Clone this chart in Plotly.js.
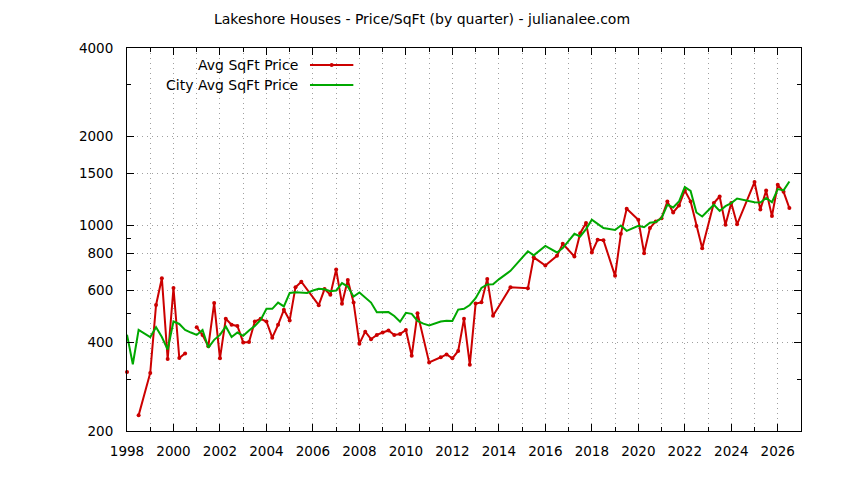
<!DOCTYPE html>
<html>
<head>
<meta charset="utf-8">
<script src="https://cdn.plot.ly/plotly-3.0.1.min.js"></script>
<style>html,body{margin:0;padding:0;background:#fff;}#chart{width:844px;height:480px;}</style>
</head>
<body>
<div id="chart"></div>
<script>
// ---- data ----
const avgQuarters = [1998.0, 1998.25, 1998.5, 1999.0, 1999.25, 1999.5, 1999.75, 2000.0, 2000.25, 2000.5, 2000.75,
  2001.0, 2001.25, 2001.5, 2001.75, 2002.0, 2002.25, 2002.5, 2002.75, 2003.0, 2003.25, 2003.5, 2003.75,
  2004.0, 2004.25, 2004.5, 2004.75, 2005.0, 2005.25, 2005.5, 2006.25, 2006.5, 2006.75,
  2007.0, 2007.25, 2007.5, 2007.75, 2008.0, 2008.25, 2008.5, 2008.75, 2009.0, 2009.25, 2009.5, 2009.75,
  2010.0, 2010.25, 2010.5, 2011.0, 2011.5, 2011.75, 2012.0, 2012.25, 2012.5, 2012.75,
  2013.0, 2013.25, 2013.5, 2013.75, 2014.5, 2015.25, 2015.5, 2016.0, 2016.5, 2016.75,
  2017.25, 2017.5, 2017.75, 2018.0, 2018.25, 2018.5, 2019.0, 2019.25, 2019.5,
  2020.0, 2020.25, 2020.5, 2020.75, 2021.0, 2021.25, 2021.5, 2021.75,
  2022.0, 2022.25, 2022.5, 2022.75, 2023.25, 2023.5, 2023.75, 2024.0, 2024.25,
  2025.0, 2025.25, 2025.5, 2025.75, 2026.0, 2026.25, 2026.5];
const avgPrice = [317, null, 226, 315, 536, 661, 351, 612, 354, 367, null,
  450, 424, 388, 544, 353, 481, 459, 455, 400, 401, 471, 481,
  471, 415, 459, 516, 475, 616, 643, 535, 607, 581,
  707, 541, 652, 546, 396, 435, 410, 424, 432, 439, 424, 427,
  441, 360, 502, 342, 356, 364, 353, 374, 481, 336,
  542, 547, 657, 493, 616, 611, 778, 730, 787, 865,
  783, 940, 1017, 808, 892, 890, 673, 935, 1137,
  1044, 804, 978, 1030, 1057, 1204, 1105, 1167,
  1313, 1205, 995, 836, 1189, 1252, 1003, 1189, 1007,
  1402, 1131, 1311, 1074, 1372, 1299, 1144];

const cityQuarters = [1998.0, 1998.25, 1998.5, 1999.0, 1999.25, 1999.5, 1999.75, 2000.0, 2000.25, 2000.5, 2000.75,
  2001.0, 2001.25, 2001.5, 2001.75, 2002.0, 2002.25, 2002.5, 2002.75, 2003.0, 2003.25, 2003.5, 2003.75,
  2004.0, 2004.25, 2004.5, 2004.75, 2005.0, 2005.25, 2005.5, 2005.75, 2006.0, 2006.25, 2006.5, 2006.75,
  2007.0, 2007.25, 2007.5, 2007.75, 2008.0, 2008.25, 2008.5, 2008.75, 2009.0, 2009.25, 2009.5, 2009.75,
  2010.0, 2010.25, 2010.5, 2010.75, 2011.0, 2011.25, 2011.5, 2011.75, 2012.0, 2012.25, 2012.5, 2012.75,
  2013.0, 2013.25, 2013.5, 2013.75, 2014.0, 2014.5, 2014.75, 2015.25, 2015.5, 2016.0, 2016.5, 2016.75,
  2017.25, 2017.5, 2017.75, 2018.0, 2018.25, 2018.5, 2019.0, 2019.25, 2019.5,
  2020.0, 2020.25, 2020.5, 2020.75, 2021.0, 2021.25, 2021.5, 2021.75,
  2022.0, 2022.25, 2022.5, 2022.75, 2023.25, 2023.5, 2023.75, 2024.0, 2024.25,
  2025.0, 2025.25, 2025.5, 2025.75, 2026.0, 2026.25, 2026.5];
const cityPrice = [425, 337, 441, 417, 450, 417, 378, 471, 462, 441, 432,
  424, 441, 384, 408, 424, 453, 417, 432, 421, 439, 455, 477,
  520, 520, 546, 530, 589, 592, 589, 589, 600, 608, 606, 597,
  600, 636, 619, 572, 591, 570, 546, 506, 506, 507, 492, 470,
  504, 500, 473, 463, 457, 465, 471, 474, 473, 517, 520, 536,
  565, 612, 629, 630, 655, 700, 738, 816, 790, 851, 808, 836,
  935, 916, 970, 1044, 1011, 978, 963, 998, 957,
  996, 985, 1020, 1025, 1057, 1174, 1149, 1204,
  1348, 1308, 1105, 1071, 1174, 1118, 1161, 1189, 1232,
  1197, 1195, 1237, 1197, 1327, 1313, 1408];

const seriesNames = ["Avg SqFt Price", "City Avg SqFt Price"];
const chartTitle = "Lakeshore Houses - Price/SqFt (by quarter) - julianalee.com";
const xMajorTicks = [1998, 2000, 2002, 2004, 2006, 2008, 2010, 2012, 2014, 2016, 2018, 2020, 2022, 2024, 2026];
const xMinorTicks = [1999, 2001, 2003, 2005, 2007, 2009, 2011, 2013, 2015, 2017, 2019, 2021, 2023, 2025];
const yMajorTicks = [200, 400, 600, 800, 1000, 1500, 2000, 4000];
const yMinorTicks = [300, 500, 700, 900, 3000];
const xRange = [1998, 2027];
const yRange = [200, 4000];

// ---- styles ----
const RED = '#cc0000';
const GREEN = '#00a800';
const FONT = 'DejaVu Sans, Verdana, sans-serif';
const GRID = '#a0a0a0';
const DASH = '1px,4px';

const traces = [
  {
    x: avgQuarters, y: avgPrice, name: seriesNames[0], type: 'scatter', mode: 'lines+markers',
    line: {color: RED, width: 2}, marker: {color: RED, size: 4, symbol: 'circle'},
    connectgaps: false, cliponaxis: false, showlegend: false
  },
  {
    x: cityQuarters, y: cityPrice, name: seriesNames[1], type: 'scatter', mode: 'lines',
    line: {color: GREEN, width: 2}, connectgaps: false, showlegend: false
  }
];

// legend geometry (paper coordinates of the plot area)
const legTextX = 0.257, legLineX0 = 0.2715, legLineX1 = 0.3358;
const legY = [0.9556, 0.9034];

const layout = {
  width: 844, height: 480,
  margin: {l: 127, r: 43, t: 48, b: 49, pad: 0},
  paper_bgcolor: '#ffffff', plot_bgcolor: '#ffffff',
  font: {family: FONT, size: 14, color: '#000'},
  title: {text: chartTitle, font: {family: FONT, size: 14, color: '#000'},
          x: 0.5, xref: 'container', xanchor: 'center', y: 0.96, yref: 'container', yanchor: 'middle'},
  showlegend: false,
  xaxis: {
    type: 'linear', range: xRange, tickmode: 'array', tickvals: xMajorTicks,
    ticktext: xMajorTicks.map(String), ticks: 'inside', ticklen: 7, tickwidth: 1, tickcolor: '#000',
    showline: true, linecolor: '#000', linewidth: 1, mirror: 'allticks',
    showgrid: true, gridcolor: GRID, gridwidth: 1, griddash: DASH, zeroline: false,
    tickfont: {family: FONT, size: 13.5, color: '#000'}, ticklabelstandoff: 8,
    minor: {tickmode: 'array', tickvals: xMinorTicks, ticks: 'inside', ticklen: 4, tickwidth: 1, tickcolor: '#000',
            showgrid: true, gridcolor: GRID, gridwidth: 1, griddash: DASH}
  },
  yaxis: {
    type: 'log', range: [Math.log10(yRange[0]), Math.log10(yRange[1])], tickmode: 'array',
    tickvals: yMajorTicks, ticktext: yMajorTicks.map(String), ticks: 'inside', ticklen: 7, tickwidth: 1, tickcolor: '#000',
    showline: true, linecolor: '#000', linewidth: 1, mirror: 'allticks',
    showgrid: true, gridcolor: GRID, gridwidth: 1, griddash: DASH, zeroline: false,
    tickfont: {family: FONT, size: 13.5, color: '#000'}, ticklabelstandoff: 10,
    minor: {tickmode: 'array', tickvals: yMinorTicks, ticks: 'inside', ticklen: 4, tickwidth: 1, tickcolor: '#000', showgrid: false}
  },
  shapes: [
    {type: 'rect', xref: 'paper', yref: 'paper', x0: 0, x1: 0.36, y0: 0.877, y1: 1,
     fillcolor: '#ffffff', line: {width: 0}, layer: 'between'},
    {type: 'line', xref: 'paper', yref: 'paper', x0: legLineX0, x1: legLineX1, y0: legY[0], y1: legY[0],
     line: {color: RED, width: 2}},
    {type: 'circle', xref: 'paper', yref: 'paper', xsizemode: 'pixel', ysizemode: 'pixel',
     xanchor: (legLineX0 + legLineX1) / 2, yanchor: legY[0], x0: -2, x1: 2, y0: -2, y1: 2,
     fillcolor: RED, line: {color: RED, width: 0}},
    {type: 'line', xref: 'paper', yref: 'paper', x0: legLineX0, x1: legLineX1, y0: legY[1], y1: legY[1],
     line: {color: GREEN, width: 2}}
  ],
  annotations: seriesNames.map((n, i) => ({
    text: n, xref: 'paper', yref: 'paper', x: legTextX, y: legY[i], xanchor: 'right', yanchor: 'middle',
    showarrow: false, font: {family: FONT, size: 14, color: '#000'}
  }))
};

Plotly.newPlot('chart', traces, layout, {displayModeBar: false, staticPlot: true});
</script>
</body>
</html>
